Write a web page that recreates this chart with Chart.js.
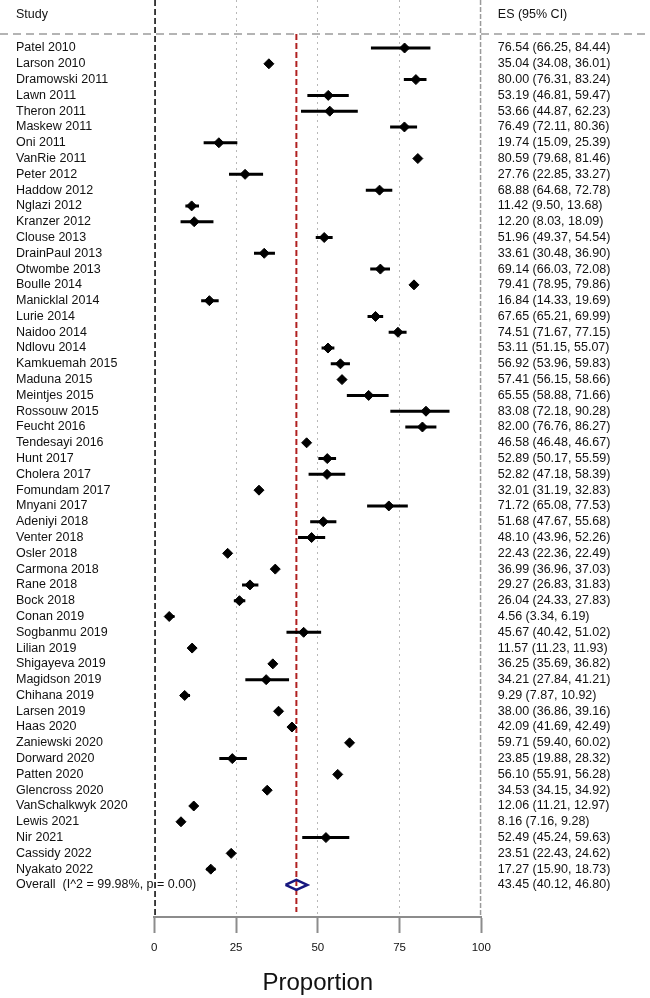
<!DOCTYPE html>
<html>
<head>
<meta charset="utf-8">
<script src="https://cdn.jsdelivr.net/npm/chart.js@4.4.1/dist/chart.umd.min.js"></script>
<style>
  html, body { margin: 0; padding: 0; background: #fff; }
  #wrap { width: 650px; height: 998px; }
</style>
</head>
<body>
<div id="wrap"><canvas id="forest" width="650" height="998"></canvas></div>
<script>
const studies = [
    'Patel 2010', 'Larson 2010', 'Dramowski 2011', 'Lawn 2011', 'Theron 2011', 'Maskew 2011',
    'Oni 2011', 'VanRie 2011', 'Peter 2012', 'Haddow 2012', 'Nglazi 2012', 'Kranzer 2012',
    'Clouse 2013', 'DrainPaul 2013', 'Otwombe 2013', 'Boulle 2014', 'Manicklal 2014', 'Lurie 2014',
    'Naidoo 2014', 'Ndlovu 2014', 'Kamkuemah 2015', 'Maduna 2015', 'Meintjes 2015', 'Rossouw 2015',
    'Feucht 2016', 'Tendesayi 2016', 'Hunt 2017', 'Cholera 2017', 'Fomundam 2017', 'Mnyani 2017',
    'Adeniyi 2018', 'Venter 2018', 'Osler 2018', 'Carmona 2018', 'Rane 2018', 'Bock 2018',
    'Conan 2019', 'Sogbanmu 2019', 'Lilian 2019', 'Shigayeva 2019', 'Magidson 2019', 'Chihana 2019',
    'Larsen 2019', 'Haas 2020', 'Zaniewski 2020', 'Dorward 2020', 'Patten 2020', 'Glencross 2020',
    'VanSchalkwyk 2020', 'Lewis 2021', 'Nir 2021', 'Cassidy 2022', 'Nyakato 2022'
];
const es = [
    76.54, 35.04, 80.00, 53.19, 53.66, 76.49, 19.74, 80.59, 27.76, 68.88, 11.42, 12.20,
    51.96, 33.61, 69.14, 79.41, 16.84, 67.65, 74.51, 53.11, 56.92, 57.41, 65.55, 83.08,
    82.00, 46.58, 52.89, 52.82, 32.01, 71.72, 51.68, 48.10, 22.43, 36.99, 29.27, 26.04,
    4.56, 45.67, 11.57, 36.25, 34.21, 9.29, 38.00, 42.09, 59.71, 23.85, 56.10, 34.53,
    12.06, 8.16, 52.49, 23.51, 17.27
];
const ciLow = [
    66.25, 34.08, 76.31, 46.81, 44.87, 72.11, 15.09, 79.68, 22.85, 64.68, 9.50, 8.03,
    49.37, 30.48, 66.03, 78.95, 14.33, 65.21, 71.67, 51.15, 53.96, 56.15, 58.88, 72.18,
    76.76, 46.48, 50.17, 47.18, 31.19, 65.08, 47.67, 43.96, 22.36, 36.96, 26.83, 24.33,
    3.34, 40.42, 11.23, 35.69, 27.84, 7.87, 36.86, 41.69, 59.40, 19.88, 55.91, 34.15,
    11.21, 7.16, 45.24, 22.43, 15.90
];
const ciHigh = [
    84.44, 36.01, 83.24, 59.47, 62.23, 80.36, 25.39, 81.46, 33.27, 72.78, 13.68, 18.09,
    54.54, 36.90, 72.08, 79.86, 19.69, 69.99, 77.15, 55.07, 59.83, 58.66, 71.66, 90.28,
    86.27, 46.67, 55.59, 58.39, 32.83, 77.53, 55.68, 52.26, 22.49, 37.03, 31.83, 27.83,
    6.19, 51.02, 11.93, 36.82, 41.21, 10.92, 39.16, 42.49, 60.02, 28.32, 56.28, 34.92,
    12.97, 9.28, 59.63, 24.62, 18.73
];
const overallLabel = 'Overall  (I^2 = 99.98%, p = 0.00)';
const overallEs = 43.45;
const overallLow = 40.12;
const overallHigh = 46.80;
const xTicks = [0, 25, 50, 75, 100];

// row layout (in row units, reversed axis: row 0 at top)
const ROW_TOP = -3.04;
const ROW_BOTTOM = 55.03;
const HEADER_ROW = -2.15;
const SEPARATOR_ROW = -0.89;
const REFLINE_END = 54.72;
const DIAMOND_HALF = 0.32;

const overallRow = studies.length;
const rowValues = [HEADER_ROW, ...studies.map((_, i) => i), overallRow];
const leftLabels = ['Study', ...studies, overallLabel];
const fmt = v => v.toFixed(2);
const rightLabels = ['ES (95% CI)',
    ...es.map((v, i) => `${fmt(v)} (${fmt(ciLow[i])}, ${fmt(ciHigh[i])})`),
    `${fmt(overallEs)} (${fmt(overallLow)}, ${fmt(overallHigh)})`];

const FONT = 'Liberation Sans, Arial, Helvetica, sans-serif';
const TEXT = '#111';

const ciPoints = [];
es.forEach((v, i) => {
    ciPoints.push({ x: ciLow[i], y: i }, { x: ciHigh[i], y: i }, { x: ciHigh[i], y: null });
});

// dashed rule under the header, across the whole width
const headerRule = {
    id: 'headerRule',
    beforeDatasetsDraw(chart) {
        const y = chart.scales.y.getPixelForValue(SEPARATOR_ROW);
        const ctx = chart.ctx;
        ctx.save();
        ctx.strokeStyle = '#b4b4b4';
        ctx.lineWidth = 2;
        ctx.setLineDash([8, 5]);
        ctx.beginPath();
        ctx.moveTo(0, y);
        ctx.lineTo(chart.width, y);
        ctx.stroke();
        ctx.restore();
    }
};

const vline = (x, from, to, color, width, dash, order) => ({
    data: [{ x: x, y: from }, { x: x, y: to }],
    showLine: true,
    borderColor: color,
    borderWidth: width,
    borderDash: dash,
    pointRadius: 0,
    order: order
});

// left axis is mirrored so long labels (Overall ...) are not clipped at the plot edge
const rowAxis = (position, labels, padding, width) => ({
    type: 'linear',
    position: position,
    reverse: true,
    min: ROW_TOP,
    max: ROW_BOTTOM,
    afterBuildTicks: s => { s.ticks = rowValues.map(v => ({ value: v })); },
    afterFit: s => { s.width = width; s.paddingTop = 0; s.paddingBottom = 0; },
    grid: { display: false, drawTicks: false },
    border: { display: false },
    ticks: {
        autoSkip: false,
        mirror: position === 'left',
        crossAlign: 'near',
        padding: padding,
        color: TEXT,
        font: { family: FONT, size: 12.5 },
        callback: (v, i) => labels[i]
    }
});

new Chart(document.getElementById('forest'), {
    type: 'scatter',
    data: {
        datasets: [
            vline(0, ROW_TOP, ROW_BOTTOM, '#000', 3, [6, 3], 5),
            vline(100, ROW_TOP, ROW_BOTTOM, '#9a9a9a', 3, [5, 2], 5),
            vline(overallEs, SEPARATOR_ROW, REFLINE_END, '#b02020', 2, [6, 3], 4),
            {
                data: ciPoints,
                showLine: true,
                spanGaps: false,
                borderColor: '#000',
                borderWidth: 3,
                pointRadius: 0,
                order: 2
            },
            {
                data: es.map((v, i) => ({ x: v, y: i })),
                pointStyle: 'rectRot',
                pointRadius: 5,
                backgroundColor: '#000',
                borderColor: '#000',
                borderWidth: 1,
                order: 1
            },
            {
                data: [
                    { x: overallLow, y: overallRow },
                    { x: overallEs, y: overallRow - DIAMOND_HALF },
                    { x: overallHigh, y: overallRow },
                    { x: overallEs, y: overallRow + DIAMOND_HALF },
                    { x: overallLow, y: overallRow }
                ],
                showLine: true,
                borderColor: '#17177f',
                borderWidth: 2.5,
                borderJoinStyle: 'miter',
                pointRadius: 0,
                order: 1
            }
        ]
    },
    options: {
        responsive: false,
        devicePixelRatio: 1,
        animation: false,
        events: [],
        layout: { autoPadding: false, padding: { left: 16, right: 0, top: 0, bottom: 0 } },
        plugins: {
            legend: { display: false },
            tooltip: { enabled: false }
        },
        scales: {
            x: {
                type: 'linear',
                min: 0,
                max: 100,
                afterBuildTicks: s => { s.ticks = xTicks.map(v => ({ value: v })); },
                afterFit: s => { s.height = 81; },
                grid: {
                    color: c => (c.tick && c.tick.value > 0 && c.tick.value < 100) ? '#b8b8b8' : 'rgba(0,0,0,0)',
                    lineWidth: 1,
                    tickColor: '#8c8c8c',
                    tickWidth: 2,
                    tickLength: 16,
                    tickBorderDash: []
                },
                border: { display: true, color: '#8c8c8c', width: 2, dash: [2, 4] },
                ticks: {
                    color: TEXT,
                    padding: 8,
                    font: { family: FONT, size: 11.5 }
                },
                title: {
                    display: true,
                    text: 'Proportion',
                    color: TEXT,
                    font: { family: FONT, size: 24, lineHeight: 1 },
                    padding: { top: 0, bottom: 3 }
                }
            },
            y: rowAxis('left', leftLabels, -138.3, 138.3),
            y2: rowAxis('right', rightLabels, 16.5, 168.7)
        }
    },
    plugins: [headerRule]
});
</script>
</body>
</html>
